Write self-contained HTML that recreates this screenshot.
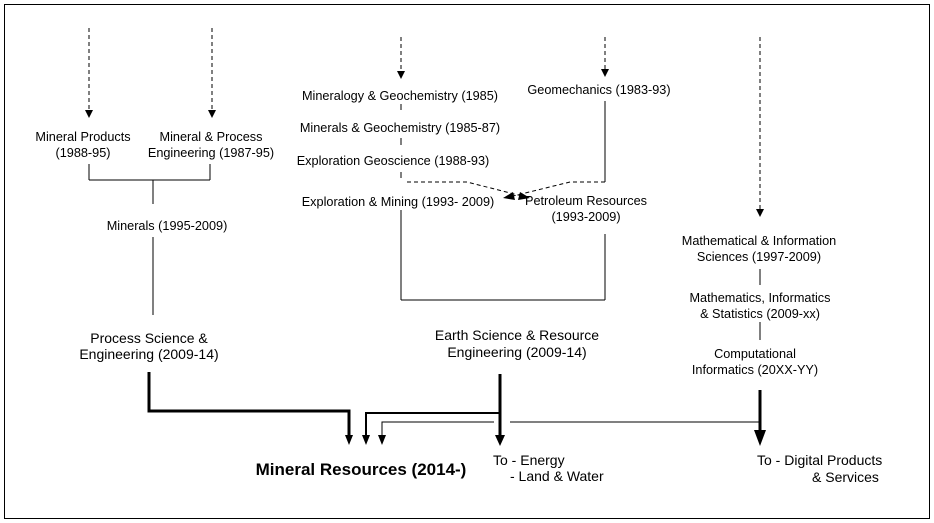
<!DOCTYPE html>
<html><head><meta charset="utf-8"><style>
html,body{margin:0;padding:0;background:#fff;}
svg{display:block;font-family:"Liberation Sans",Arial,sans-serif;}
text{font-size:12.7px;fill:#000;}
.b{font-size:14px;}
</style></head><body>
<svg width="934" height="523" viewBox="0 0 934 523" xmlns="http://www.w3.org/2000/svg">
<rect x="4.5" y="4.5" width="925" height="514" fill="none" stroke="#000" stroke-width="1"/>
<g stroke="#000" fill="none" stroke-width="1">
<g stroke-dasharray="4,3">
<line x1="89" y1="28" x2="89" y2="110"/>
<line x1="212" y1="28" x2="212" y2="110"/>
<line x1="401" y1="37" x2="401" y2="72"/>
<line x1="605" y1="37" x2="605" y2="70"/>
<line x1="760" y1="37" x2="760" y2="210"/>
<polyline points="407,182 467,182 522,196"/>
<polyline points="605,182 570,182 513,196"/>
</g>
<line x1="89" y1="164" x2="89" y2="180"/><line x1="210" y1="164" x2="210" y2="180"/>
<line x1="89" y1="180" x2="210" y2="180"/><line x1="153" y1="180" x2="153" y2="204"/>
<line x1="153" y1="237" x2="153" y2="315"/>
<line x1="401" y1="104" x2="401" y2="110"/><line x1="401" y1="138" x2="401" y2="145"/>
<line x1="401" y1="172" x2="401" y2="178"/>
<line x1="401" y1="210" x2="401" y2="300"/><line x1="401" y1="300" x2="605" y2="300"/>
<line x1="605" y1="234" x2="605" y2="300"/><line x1="605" y1="101" x2="605" y2="182"/>
<line x1="760" y1="269" x2="760" y2="285"/><line x1="760" y1="322" x2="760" y2="340"/>
<polyline points="149,372 149,411 349,411 349,436" stroke-width="3"/>
<polyline points="500,413 366,413 366,436" stroke-width="2"/>
<polyline points="494,422 382,422 382,436"/>
<line x1="510" y1="422" x2="760" y2="422"/>
<line x1="500" y1="374" x2="500" y2="436" stroke-width="3"/>
<line x1="760" y1="390" x2="760" y2="432" stroke-width="3"/>
</g>
<g fill="#000">
<path d="M85,110 L93,110 L89,118 Z"/><path d="M208,110 L216,110 L212,118 Z"/>
<path d="M397,71 L405,71 L401,79 Z"/><path d="M601,69 L609,69 L605,77 Z"/>
<path d="M756,209 L764,209 L760,217 Z"/>
<path d="M530,198 L520,192 L518,200 Z"/><path d="M503,198 L513,192 L515,200 Z"/>
<path d="M345,435 L353,435 L349,445 Z"/>
<path d="M362,435 L370,435 L366,445 Z"/>
<path d="M378,435 L386,435 L382,445 Z"/>
<path d="M495,435 L505,435 L500,446 Z"/>
<path d="M754,430 L766,430 L760,446 Z"/>
</g>
<g text-anchor="middle">
<text x="83" y="141">Mineral Products</text><text x="83" y="157">(1988-95)</text>
<text x="211" y="141">Mineral  &amp; Process</text><text x="211" y="157">Engineering (1987-95)</text>
<text x="167" y="230">Minerals (1995-2009)</text>
<text x="149" y="343" class="b">Process Science &amp;</text><text x="149" y="359" class="b">Engineering (2009-14)</text>
<text x="400" y="100">Mineralogy &amp; Geochemistry (1985)</text>
<text x="400" y="132">Minerals &amp; Geochemistry (1985-87)</text>
<text x="393" y="165">Exploration Geoscience (1988-93)</text>
<text x="398" y="206">Exploration &amp;  Mining (1993- 2009)</text>
<text x="599" y="94">Geomechanics (1983-93)</text>
<text x="586" y="205">Petroleum Resources</text><text x="586" y="221">(1993-2009)</text>
<text x="517" y="340" class="b">Earth Science &amp; Resource</text><text x="517" y="357" class="b">Engineering (2009-14)</text>
<text x="759" y="245">Mathematical &amp; Information</text><text x="759" y="261">Sciences (1997-2009)</text>
<text x="760" y="302">Mathematics, Informatics</text><text x="760" y="318">&amp; Statistics (2009-xx)</text>
<text x="755" y="358">Computational</text><text x="755" y="374">Informatics (20XX-YY)</text>
<text x="361" y="475" style="font-size:17px;font-weight:bold">Mineral Resources (2014-)</text>
</g>
<text x="493" y="465" class="b">To - Energy</text>
<text x="510" y="481" class="b">- Land &amp; Water</text>
<text x="757" y="465" class="b">To - Digital Products</text>
<text x="812" y="482" class="b">&amp; Services</text>
</svg>
</body></html>
